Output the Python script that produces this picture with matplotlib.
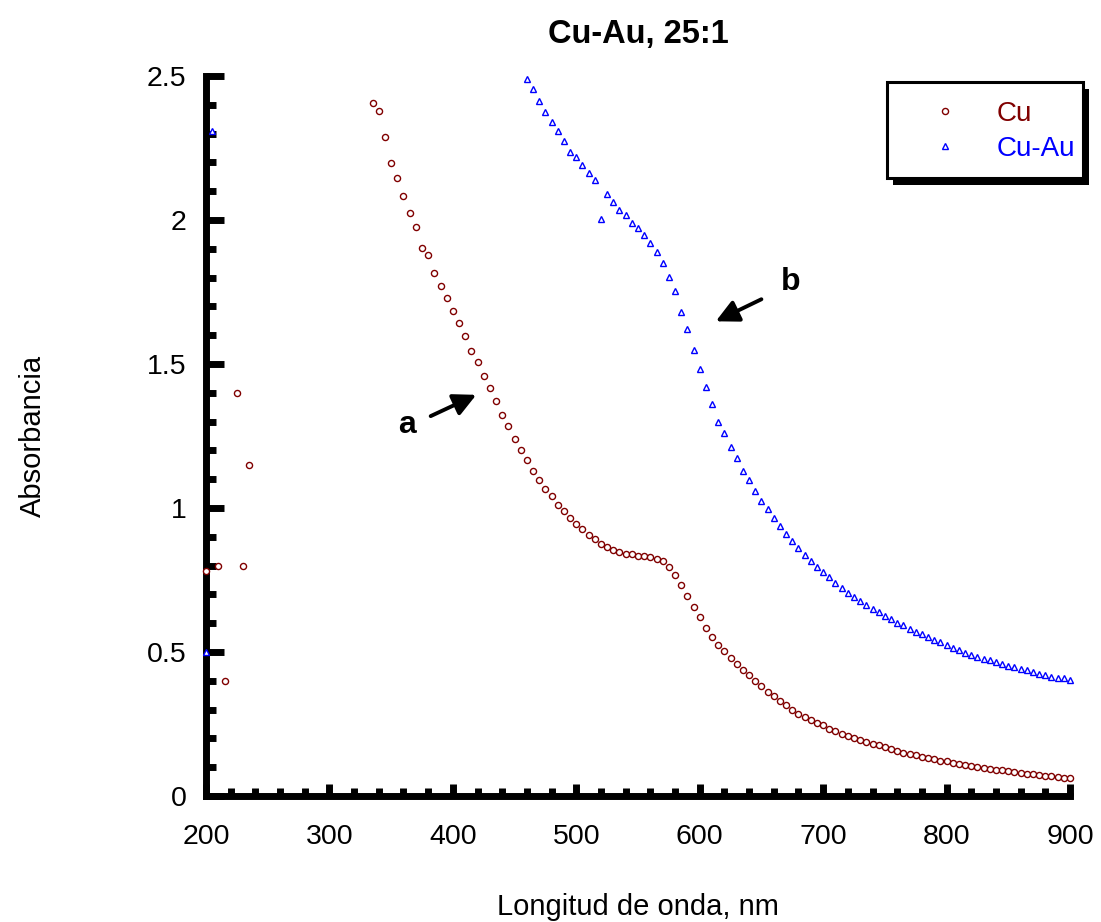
import numpy as np
import matplotlib.pyplot as plt
from matplotlib.ticker import MultipleLocator, FuncFormatter
from matplotlib.patches import Rectangle

plt.rcParams['font.family'] = ['Liberation Sans', 'DejaVu Sans']

# Cu sample: a few noisy points near 200 nm, then the 335-900 nm sweep (5 nm steps)
cu_nm = [200, 210, 215, 225, 230, 235] + list(range(335, 905, 5))
cu_abs = [0.78, 0.80, 0.40, 1.40, 0.80, 1.15,
          2.407, 2.379, 2.287, 2.198, 2.146, 2.082, 2.024, 1.974, 1.904, 1.880,
          1.816, 1.772, 1.730, 1.685, 1.641, 1.596, 1.545, 1.506, 1.459, 1.415,
          1.370, 1.323, 1.284, 1.241, 1.202, 1.165, 1.129, 1.098, 1.067, 1.040,
          1.012, 0.988, 0.965, 0.944, 0.926, 0.907, 0.891, 0.876, 0.864, 0.854,
          0.847, 0.840, 0.839, 0.835, 0.833, 0.831, 0.824, 0.815, 0.795, 0.769,
          0.733, 0.693, 0.655, 0.620,
          0.584, 0.552, 0.525, 0.502, 0.478, 0.458, 0.437, 0.420, 0.400, 0.381,
          0.362, 0.347, 0.329, 0.316, 0.300, 0.285, 0.275, 0.265, 0.254, 0.245,
          0.231, 0.224, 0.217, 0.210, 0.202, 0.194, 0.188, 0.181, 0.176, 0.170,
          0.163, 0.156, 0.151, 0.147, 0.141, 0.136, 0.132, 0.127, 0.123, 0.120,
          0.116, 0.111, 0.109, 0.104, 0.099, 0.096, 0.094, 0.091, 0.089, 0.086,
          0.082, 0.080, 0.077, 0.076, 0.074, 0.070, 0.068, 0.066, 0.064, 0.062]

# Cu-Au sample: two points near 200 nm, then 460-900 nm
cuau_nm = [200, 205] + list(range(460, 905, 5))
cuau_abs = [0.50, 2.31,
            2.489, 2.456, 2.413, 2.375, 2.340, 2.309, 2.276, 2.235, 2.218, 2.191,
            2.164, 2.139, 2.005, 2.091, 2.062, 2.036, 2.018, 1.990, 1.973, 1.949,
            1.919, 1.889, 1.852, 1.803, 1.752, 1.682, 1.622,
            1.550, 1.483, 1.421, 1.362, 1.300, 1.262, 1.211, 1.172, 1.130, 1.096,
            1.058, 1.025, 0.995, 0.966, 0.937, 0.911, 0.887, 0.862, 0.837, 0.816,
            0.795, 0.777, 0.759, 0.741, 0.722, 0.706, 0.691, 0.677, 0.663, 0.649,
            0.638, 0.625, 0.614, 0.602, 0.594, 0.581, 0.571, 0.563, 0.551, 0.541,
            0.533, 0.525, 0.514, 0.506, 0.498, 0.491, 0.484, 0.477, 0.473, 0.466,
            0.459, 0.452, 0.447, 0.440, 0.436, 0.430, 0.425, 0.420, 0.413, 0.408,
            0.408, 0.403]

W, H = 1101, 922
fig = plt.figure(figsize=(W / 100, H / 100), dpi=100)
ax = fig.add_axes([206 / W, (H - 796) / H, (1070 - 206) / W, (796 - 76) / H])

ax.plot(cu_nm, cu_abs, linestyle='none', marker='o', ms=4.4, mew=1.0,
        mfc='white', color='#800000', label='Cu', zorder=3, clip_on=False)
ax.plot(cuau_nm, cuau_abs, linestyle='none', marker='^', ms=4.4, mew=1.0,
        mfc='white', color='#0000ff', label='Cu-Au', zorder=3, clip_on=False)

ax.set_xlim(200, 900)
ax.set_ylim(0, 2.5)

for s in ('top', 'right'):
    ax.spines[s].set_visible(False)
for s in ('left', 'bottom'):
    ax.spines[s].set_linewidth(5)

ax.xaxis.set_major_locator(MultipleLocator(100))
ax.xaxis.set_minor_locator(MultipleLocator(20))
ax.yaxis.set_major_locator(MultipleLocator(0.5))
ax.yaxis.set_minor_locator(MultipleLocator(0.1))
ax.yaxis.set_major_formatter(FuncFormatter(lambda v, p: '%g' % v))

ax.tick_params(axis='both', which='both', direction='in', width=5, labelsize=20.5)
ax.tick_params(axis='y', which='major', length=13, pad=14)
ax.tick_params(axis='y', which='minor', length=7.5)
ax.tick_params(axis='x', which='major', length=9, pad=20)
ax.tick_params(axis='x', which='minor', length=6)

ax.set_xlabel('Longitud de onda, nm', fontsize=21, labelpad=31)
ax.set_ylabel('Absorbancia', fontsize=21, labelpad=72)
ax.set_title('Cu-Au, 25:1', fontsize=23.5, fontweight='bold', pad=24)

# arrows marking the two curves
arrow = dict(arrowstyle='-|>', color='black', lw=2.8, mutation_scale=34)
ax.annotate('', xy=(421, 1.397), xytext=(380, 1.315), arrowprops=arrow)
ax.text(363, 1.287, 'a', fontsize=23, fontweight='bold', ha='center', va='center')
ax.annotate('', xy=(611, 1.644), xytext=(652, 1.729), arrowprops=arrow)
ax.text(674, 1.785, 'b', fontsize=23, fontweight='bold', ha='center', va='center')

# legend entries without frame; the boxed frame and its shadow are drawn below
leg = ax.legend(loc='upper left', bbox_to_anchor=(909 / W, 1 - 101 / H),
                bbox_transform=fig.transFigure, fontsize=20, frameon=False,
                borderpad=0, labelspacing=0.32, handlelength=2.6,
                handletextpad=0.54, numpoints=1, borderaxespad=0,
                labelcolor='linecolor')
leg.set_zorder(7)

box_x0, box_y0, box_x1, box_y1 = 887, 82, 1083, 178
frame = Rectangle((box_x0 / W, 1 - box_y1 / H), (box_x1 - box_x0) / W,
                  (box_y1 - box_y0) / H, transform=fig.transFigure,
                  facecolor='white', edgecolor='black', linewidth=2.2,
                  zorder=6, clip_on=False)
shadow = Rectangle(((box_x0 + 6) / W, 1 - (box_y1 + 7) / H), (box_x1 - box_x0) / W,
                   (box_y1 - box_y0) / H, transform=fig.transFigure,
                   facecolor='black', edgecolor='none', zorder=5.5, clip_on=False)
ax.add_patch(shadow)
ax.add_patch(frame)

fig.savefig('out.png', dpi=100)
